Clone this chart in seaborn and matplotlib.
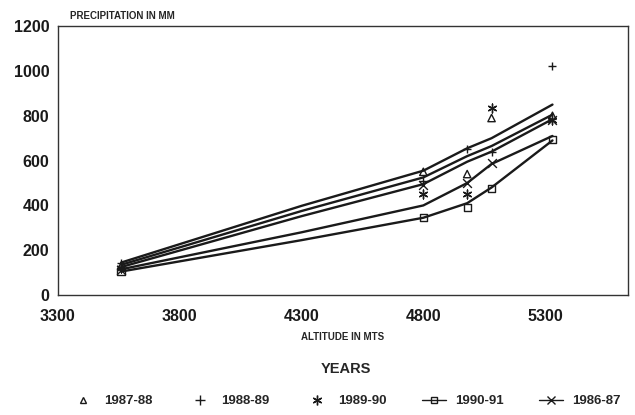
import matplotlib
matplotlib.use("Agg")
import matplotlib.pyplot as plt
from matplotlib.lines import Line2D
import pandas as pd
import numpy as np
import seaborn as sns

# altitudes of the stations (m)
altitude = [3560, 4800, 4980, 5080, 5330]

# measured precipitation (mm) per year
p_8788 = [130, 550, 540, 790, 800]
p_8889 = [145, 510, 650, 640, 1020]
p_8990 = [120, 450, 450, 835, 780]
p_9091 = [105, 345, 390, 475, 695]
p_8687 = [110, 490, 500, 590, 780]

# smoothed curves (mm)
curve_alt = [3560, 4300, 4800, 4980, 5080, 5330]
c_8889 = [145, 398, 555, 655, 700, 850]
c_8788 = [135, 375, 525, 620, 665, 805]
c_8687 = [125, 352, 495, 595, 640, 785]
c_8990 = [115, 280, 400, 500, 585, 710]
c_9091 = [105, 245, 345, 410, 480, 690]

years = ["1987-88", "1988-89", "1989-90", "1990-91", "1986-87"]
points = [p_8788, p_8889, p_8990, p_9091, p_8687]
curves = [c_8788, c_8889, c_8990, c_9091, c_8687]
markers = ["^", "+", (6, 2, 0), "s", "x"]

sns.set_style("white")
plt.rcParams["font.family"] = ["Liberation Sans", "DejaVu Sans"]
plt.rcParams["font.weight"] = "bold"

fig = plt.figure(figsize=(6.35, 4.15), dpi=100)
ax = fig.add_axes([0.091, 0.289, 0.898, 0.648])

for yr, c in zip(years, curves):
    d = pd.DataFrame({"alt": curve_alt, "mm": c})
    sns.lineplot(data=d, x="alt", y="mm", ax=ax, color="#1a1a1a", lw=1.7)

for yr, p, m in zip(years, points, markers):
    d = pd.DataFrame({"alt": altitude, "mm": p})
    if m in ("^", "s"):
        sns.scatterplot(data=d, x="alt", y="mm", ax=ax, marker=m, s=28,
                        facecolor="none", edgecolor="#1a1a1a", linewidth=1.0)
    else:
        sns.scatterplot(data=d, x="alt", y="mm", ax=ax, marker=m, s=40,
                        color="#1a1a1a", linewidth=1.0)

ax.set_xlim(3300, 5640)
ax.set_ylim(0, 1200)
ax.set_xticks([3300, 3800, 4300, 4800, 5300])
ax.set_yticks(range(0, 1201, 200))
ax.tick_params(direction="in", length=5, width=0.8, labelsize=11.5, colors="#1a1a1a")
ax.tick_params(axis="x", pad=10)
ax.tick_params(axis="y", pad=6)
for lab in ax.get_xticklabels() + ax.get_yticklabels():
    lab.set_fontweight("bold")
for s in ax.spines.values():
    s.set_color("#333333")
    s.set_linewidth(1.0)
ax.set_xlabel("ALTITUDE IN MTS", fontsize=7, fontweight="bold", labelpad=6)
ax.set_ylabel("")
fig.text(0.11, 0.955, "PRECIPITATION IN MM", fontsize=7, fontweight="bold")

handles = [
    Line2D([], [], ls="none", marker="^", mfc="none", mec="#1a1a1a", ms=5),
    Line2D([], [], ls="none", marker="+", color="#1a1a1a", ms=7),
    Line2D([], [], ls="none", marker=(6, 2, 0), color="#1a1a1a", ms=7),
    Line2D([], [], color="#1a1a1a", lw=1, marker="s", mfc="none", ms=4),
    Line2D([], [], color="#1a1a1a", lw=1, marker="x", ms=6),
]
leg = fig.legend(handles, years, loc="lower center", bbox_to_anchor=(0.545, -0.01),
                 ncol=5, frameon=False, fontsize=9.5, title="YEARS",
                 handlelength=1.8, columnspacing=2.7, handletextpad=0.7)
leg.get_title().set_fontweight("bold")
leg.get_title().set_fontsize(10.5)
leg._legend_box.sep = 14
for t in leg.get_texts():
    t.set_fontweight("bold")

fig.savefig("out.png", dpi=100)
